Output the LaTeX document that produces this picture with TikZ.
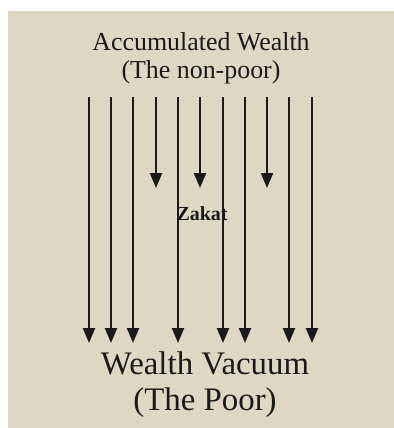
\documentclass[tikz,border=0pt]{standalone}
\usepackage{fontspec}
\setmainfont{Liberation Serif}
\usetikzlibrary{arrows.meta}
\definecolor{bg}{HTML}{DDD8C4}
\definecolor{ink}{HTML}{1A1A1A}
\tikzset{
  flow/.style={draw=ink, line width=2.3bp, -{Triangle[length=15bp,width=12bp]}},
  lbl/.style={inner sep=0pt, text=ink, align=center},
}
\begin{document}
\begin{tikzpicture}[x=1bp,y=-1bp]
\useasboundingbox (0,0) rectangle (394,428);
\fill[bg] (8,11) rectangle (394,428);
\node[lbl, font=\fontsize{26}{28}\selectfont] (top) at (201,58) {Accumulated Wealth\\(The non-poor)};
\node[lbl, font=\fontsize{33}{36}\selectfont] (bottom) at (205,385) {Wealth Vacuum\\(The Poor)};
% long arrows
\foreach \i/\x in {a/89, b/111, c/133, e/178, g/223, h/245, j/289, k/312}{
  \coordinate (s\i) at (\x,97);
  \coordinate (t\i) at (\x,343);
  \draw[flow] (s\i) -- (t\i);
}
% short arrows
\foreach \i/\x in {d/156, f/200, i/267}{
  \coordinate (s\i) at (\x,97);
  \coordinate (t\i) at (\x,188);
  \draw[flow] (s\i) -- (t\i);
}
\node[lbl, font=\bfseries\fontsize{20}{22}\selectfont] (zakat) at (202,214) {Zakat};
\end{tikzpicture}
\end{document}
